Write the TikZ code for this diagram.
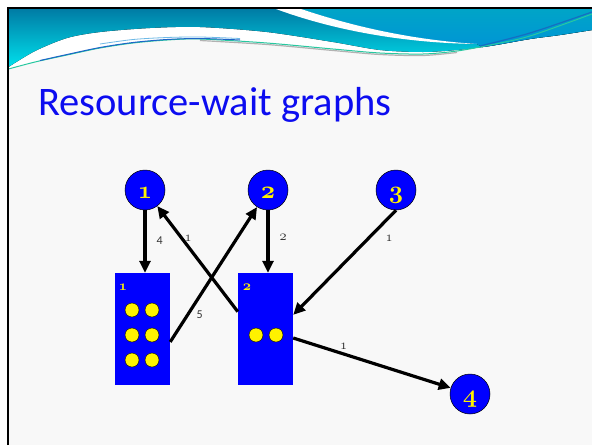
\documentclass[tikz,border=0pt]{standalone}
\usepackage{fontspec}
\setmainfont{Carlito}
\usetikzlibrary{arrows.meta}

\definecolor{slidebg}{RGB}{248,248,248}
\definecolor{hdtop}{RGB}{0,124,165}
\definecolor{hdbot}{RGB}{0,224,236}
\definecolor{rtop}{RGB}{0,168,196}
\definecolor{rbot}{RGB}{0,140,222}
\definecolor{decogreen}{RGB}{40,200,160}
\definecolor{decoblue}{RGB}{30,100,200}
\definecolor{lightblue}{RGB}{110,185,230}
\definecolor{streak}{RGB}{30,90,190}
\definecolor{titleblue}{RGB}{12,12,240}
\definecolor{nodeblue}{RGB}{0,0,255}
\definecolor{lblgray}{RGB}{55,55,55}

% old-style figures from the Computer Modern math italic fonts
\newcommand{\osf}[1]{{\usefont{OML}{cmm}{m}{it}#1}}
\newcommand{\osfb}[1]{{\usefont{OML}{cmm}{b}{it}#1}}

\tikzset{
  circ/.style={circle, fill=nodeblue, draw=black, line width=0.5pt,
    minimum size=40pt, inner sep=0pt, text=yellow,
    font=\fontsize{24.88}{26}\selectfont, text height=16pt, text depth=0pt},
  rbox/.style={rectangle, fill=nodeblue, minimum width=55pt,
    minimum height=112pt, inner sep=0pt},
  dot/.style={circle, fill=yellow, draw=black, line width=0.4pt,
    minimum size=14pt, inner sep=0pt},
  rlbl/.style={text=yellow, font=\fontsize{14.4}{14.4}\selectfont, inner sep=0pt},
  arr/.style={line width=3.2pt, -{Triangle[length=12pt,width=11pt]}},
  elbl/.style={text=lblgray, font=\fontsize{12}{12}\selectfont, inner sep=0pt},
  olbl/.style={text=black!85, font=\fontsize{14.4}{14.4}\selectfont, inner sep=0pt},
}

\begin{document}
\begin{tikzpicture}[x=1pt,y=-1pt]
\useasboundingbox (0,0) rectangle (592,445);
\fill[white] (0,0) rectangle (592,445);
\fill[slidebg] (8,8) rectangle (592,445);

% header wave
\def\hdrpath{(8.5,9) -- (592,9) -- (592,30) -- plot[smooth] coordinates {(592,30) (560,35) (530,39) (490,46) (457,50) (423,52) (380,50) (333,42) (267,32) (200,27) (150,28) (100,32) (67,38) (35,51) (8.5,67)} -- cycle}
\fill[white] (8.5,9) -- (592,9) -- (592,30) -- plot[smooth] coordinates {(530,39) (490,46) (457,51) (423,54) (380,53) (333,49) (267,43) (200,39) (167,40) (133,43) (100,48) (67,55) (35,62) (8.5,69)} -- cycle;
\fill[top color=hdtop, bottom color=hdbot] \hdrpath;
\begin{scope}
  \clip \hdrpath;
  \fill[top color=rtop, bottom color=rbot] (300,9) .. controls (340,22) and (400,40) .. (477,44) -- (520,70) -- (600,70) -- (600,0) -- (300,0) -- cycle;
\end{scope}
\fill[white] (276,9) -- (301,9) .. controls (340,22) and (400,39) .. (477,44) .. controls (400,43) and (330,29) .. (276,9) -- cycle;
\draw[gray!60, line width=1.2pt] plot[smooth] coordinates {(200,40.5) (267,44.5) (333,50.5) (380,54.5) (423,55.5) (457,52.5)};
\draw[decogreen, line width=1pt] plot[smooth] coordinates {(8.5,69) (35,62) (67,55) (100,48) (133,43) (167,40) (200,39) (267,43) (333,49) (380,53) (423,54) (457,51) (490,45) (530,36) (592,14)};
\draw[decoblue, line width=1pt] plot[smooth] coordinates {(40,60.5) (67,54.5) (100,47.5) (133,42.5) (167,39.5) (200,38.5) (240,40)};
\draw[lightblue, line width=0.8pt] plot[smooth] coordinates {(100,44) (133,39.5) (167,37.5) (200,37) (240,38.5)};
\draw[streak, line width=1.2pt, opacity=0.7] plot[smooth] coordinates {(480,46) (530,33) (592,12)};

% slide frame
\draw[black, line width=2.5pt] (8,445) -- (8,8) -- (592,8);

% title
\node[anchor=base west, inner sep=0pt, text=titleblue, font=\fontsize{40.5}{40.5}\selectfont] (title) at (38,115) {Resource-wait graphs};

% processes
\node[circ] (c1) at (145,190) {\osfb{1}};
\node[circ] (c2) at (268,190) {\osfb{2}};
\node[circ] (c3) at (396,190) {\osfb{3}};
\node[circ] (c4) at (470,394) {\osfb{4}};

% resources
\node[rbox] (r1) at (142.5,329) {};
\node[rbox] (r2) at (265.5,329) {};
\node[rlbl] (r1lbl) at (123,287) {\osfb{1}};
\node[rlbl] (r2lbl) at (247,287) {\osfb{2}};

% units of resource 1
\node[dot] (d11) at (132,310) {};
\node[dot] (d12) at (152,310) {};
\node[dot] (d13) at (132,335) {};
\node[dot] (d14) at (152,335) {};
\node[dot] (d15) at (132,360) {};
\node[dot] (d16) at (152,360) {};
% units of resource 2
\node[dot] (d21) at (256,335) {};
\node[dot] (d22) at (276,335) {};

% requests and allocations
\draw[arr] (c1.south) -- (c1.south |- r1.north)
  node[elbl, pos=0.48, right=10pt] {4};
\draw[arr] (r2.148) -- (c1)
  node[olbl, pos=0.69, xshift=6pt] {\osf{1}};
\draw[arr] (r1.-25) -- (c2)
  node[elbl, pos=0.2, xshift=12pt] {5};
\draw[arr] (c2.south) -- (c2.south |- r2.north)
  node[olbl, pos=0.43, right=10pt] {\osf{2}};
\draw[arr] (c3.south) -- (r2.27)
  node[olbl, pos=0.27, xshift=21pt] {\osf{1}};
\draw[arr] (r2.-18) -- (c4)
  node[olbl, pos=0.32, yshift=8pt] {\osf{1}};
\end{tikzpicture}
\end{document}
